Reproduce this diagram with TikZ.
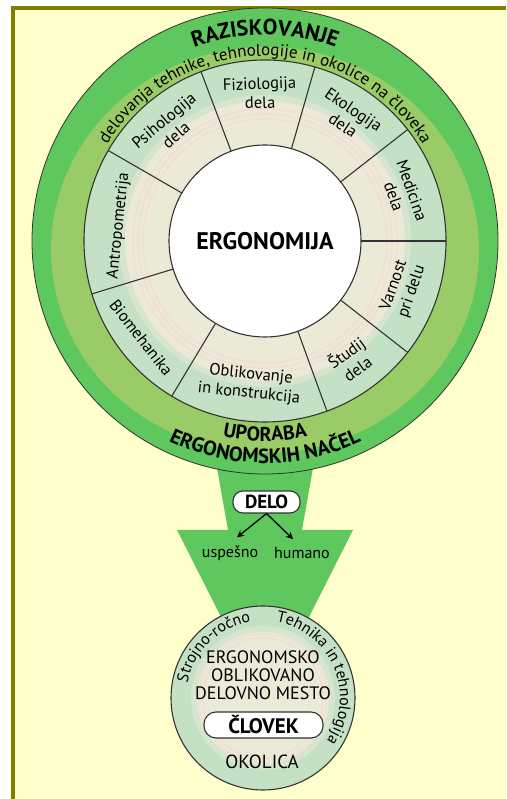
\documentclass[tikz,border=0pt]{standalone}
\usepackage{fontspec}
\setmainfont{PT Sans}
\usetikzlibrary{decorations.text,arrows.meta}
\definecolor{bg}{HTML}{FFFFCC}
\definecolor{olivefr}{HTML}{808000}
\definecolor{gdark}{HTML}{5EC85E}
\definecolor{glight}{HTML}{99CC66}
\definecolor{mint}{HTML}{C5E1C5}
\definecolor{beige}{HTML}{EAEAD6}
\definecolor{pinkr}{HTML}{F4DCD2}
\definecolor{lin}{HTML}{333333}
\pgfdeclareradialshading{plate}{\pgfpoint{0bp}{0bp}}{color(0bp)=(white); color(33bp)=(white); color(40bp)=(white!95!black); color(50bp)=(white!75!black)}
\begin{document}
\begin{tikzpicture}[x=1pt,y=1pt,
  sectxt/.style={font=\fontsize{16.5}{19}\selectfont, align=center, inner sep=0pt},
  ring/.style={draw=lin, line width=1.1pt},
  pill/.style={draw=lin, fill=white, line width=1.1pt},
  curv/.style={decorate, decoration={text along path, text align=center, text={#1}}}]
\useasboundingbox (0,0) rectangle (506,799);
\fill[white] (0,0) rectangle (506,799);
\fill[olivefr] (11,0) rectangle (506,793);
\fill[bg] (15,0) rectangle (506,789);
\coordinate (C) at (265,558);
\coordinate (L) at (263,101);
% funnel
\fill[gdark] (212,359) -- (228,269) -- (177,269) -- (265,95) -- (353,269) -- (302,269) -- (318,359) -- cycle;
% big circle
\filldraw[fill=gdark, draw=lin, line width=0.8pt] (C) circle[radius=233];
\fill[glight] (265,549) ellipse[x radius=214, y radius=203];
\fill[mint] (C) circle[radius=181];
\fill[mint!50!beige] (C) circle[radius=146];
\fill[beige] (C) circle[radius=140];
\foreach \r in {122,127,132}{\draw[pinkr, line width=1.2pt] (C) circle[radius=\r];}
\draw[ring] (C) circle[radius=181];
\foreach \a in {0,38,74,110.7,150,197,239,290,322}{\draw[ring] ([shift={(\a:96)}]C) -- ([shift={(\a:181)}]C);}
\path[ring, shading=plate] (C) circle[radius=96];
\node[font=\fontsize{24}{24}\selectfont\bfseries] (ergo) at (C) {ERGONOMIJA};
% sectors
\node[sectxt, rotate=2] (fiz) at ([shift={(92:148)}]C) {Fiziologija\\dela};
\node[sectxt, rotate=-34] (eko) at ([shift={(56:149)}]C) {Ekologija\\dela};
\node[sectxt, rotate=-71] (med) at ([shift={(19:146)}]C) {Medicina\\dela};
\node[sectxt, rotate=71] (var) at ([shift={(-19:146)}]C) {Varnost\\pri delu};
\node[sectxt, rotate=36] (stu) at ([shift={(-54:147)}]C) {Študij\\dela};
\node[sectxt, rotate=-6] (obl) at ([shift={(-96:144)}]C) {Oblikovanje\\in konstrukcija};
\node[sectxt, rotate=-52] (bio) at ([shift={(-142:157)}]C) {Biomehanika};
\node[sectxt, rotate=84] (ant) at ([shift={(174:147)}]C) {Antropometrija};
\node[sectxt, rotate=40] (psi) at ([shift={(130:148)}]C) {Psihologija\\dela};
% curved texts
\path[curv={|\fontsize{22}{22}\selectfont\bfseries|RAZISKOVANJE}] ([shift={(140:206)}]C) arc[start angle=140, end angle=40, radius=206];
\path[curv={|\fontsize{17}{17}\selectfont|delovanja tehnike, tehnologije in okolice na človeka}] ([shift={(170:185)}]C) arc[start angle=170, end angle=10, radius=185];
\path[curv={|\fontsize{20}{20}\selectfont\bfseries|UPORABA}] ([shift={(225:200)}]C) arc[start angle=225, end angle=315, radius=200];
\path[curv={|\fontsize{20.5}{20.5}\selectfont\bfseries|ERGONOMSKIH NAČEL}] ([shift={(205:222)}]C) arc[start angle=205, end angle=335, radius=222];
% DELO
\node[pill, rounded corners=10pt, minimum width=67pt, minimum height=22pt, inner sep=0pt, font=\fontsize{19}{19}\selectfont\bfseries] (delo) at (266.5,297) {DELO};
\node[font=\fontsize{16}{16}\selectfont, inner sep=1pt] (usp) at (230,246) {uspešno};
\node[font=\fontsize{16}{16}\selectfont, inner sep=1pt] (hum) at (302,246) {humano};
\draw[-{Stealth[length=7pt,width=7pt]}, line width=1.3pt] (delo.south) -- ([xshift=7pt,yshift=7pt]usp.north);
\draw[-{Stealth[length=7pt,width=7pt]}, line width=1.3pt] (delo.south) -- ([xshift=-9pt,yshift=7pt]hum.north);
% lower circle
\filldraw[fill=mint, draw=lin, line width=1.1pt] (L) circle[radius=92];
\fill[mint!50!beige] (L) circle[radius=72];
\fill[beige] (L) circle[radius=66];
\foreach \r in {60,64}{\draw[pinkr, line width=1pt] (L) circle[radius=\r];}
\path[curv={|\fontsize{16}{16}\selectfont|Strojno-ročno}] ([shift={(178:77)}]L) arc[start angle=178, end angle=90, radius=77];
\path[curv={|\fontsize{16}{16}\selectfont|Tehnika in tehnologija}] ([shift={(86:77)}]L) arc[start angle=86, end angle=-40, radius=77];
\node[font=\fontsize{18}{18}\selectfont, align=center, inner sep=0pt] (eodm) at (263,124) {ERGONOMSKO\\OBLIKOVANO\\DELOVNO MESTO};
\node[pill, rounded corners=12pt, minimum width=119pt, minimum height=26pt, inner sep=0pt, font=\fontsize{21}{21}\selectfont\bfseries] (clovek) at (263.5,74) {ČLOVEK};
\node[font=\fontsize{19}{19}\selectfont] (okol) at (262,37) {OKOLICA};
\end{tikzpicture}
\end{document}
